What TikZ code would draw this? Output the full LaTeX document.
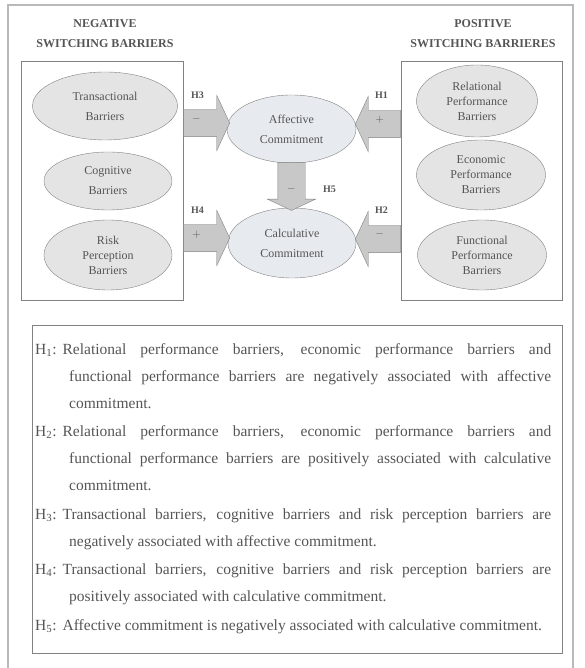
\documentclass[tikz,border=0pt]{standalone}
\usepackage{fontspec}
\setmainfont{Liberation Serif}
\usetikzlibrary{shapes.geometric, shapes.arrows, positioning, calc}

\definecolor{sidefill}{RGB}{228,228,228}
\definecolor{midfill}{RGB}{231,235,239}
\definecolor{arrowfill}{RGB}{200,200,200}
\definecolor{linegray}{RGB}{130,130,130}
\definecolor{framegray}{RGB}{185,185,185}
\definecolor{textgray}{RGB}{85,85,85}

\newcommand{\hyplabel}[1]{H\textsubscript{#1}:\hspace{6pt}}

\begin{document}
\begin{tikzpicture}[
    x=1pt, y=1pt,
    every node/.style={text=textgray},
    group/.style={rectangle, draw=linegray, line width=0.9pt, minimum width=162pt, minimum height=239pt},
    title/.style={align=center, font=\fontsize{12}{20}\selectfont\bfseries},
    barrier/.style={ellipse, draw=linegray, fill=sidefill, align=center, inner sep=0pt, font=\fontsize{12}{15}\selectfont},
    commit/.style={barrier, fill=midfill},
    fatarrow/.style={single arrow, draw=linegray, fill=arrowfill, inner sep=13.5pt, single arrow head extend=14pt, single arrow tip angle=130, anchor=tail, minimum height=46pt},
    hyp/.style={font=\fontsize{10}{12}\selectfont\bfseries},
    sign/.style={font=\fontsize{11}{12}\selectfont}
]
\useasboundingbox (0,0) rectangle (584,668);

% Frame
\draw[framegray, line width=1.2pt] (8,-5) rectangle (573,663);

% Titles
\node[title] (negtitle) at (105,634) {NEGATIVE\\SWITCHING BARRIERS};
\node[title] (postitle) at (483,634) {POSITIVE\\SWITCHING BARRIERES};

% Barrier groups
\node[group] (negbox) at (102,487.5) {};
\node[group, minimum width=161pt] (posbox) at (481.5,487.5) {};

% Negative barriers
\node[barrier, minimum width=145pt, minimum height=68pt] (trans) at (105,562) {Transactional\\[5pt]Barriers};
\node[barrier, minimum width=128pt, minimum height=58pt] (cog) at (108,487) {Cognitive\\[5pt]Barriers};
\node[barrier, minimum width=128pt, minimum height=70pt] (risk) at (108,413) {Risk\\Perception\\Barriers};

% Positive barriers
\node[barrier, minimum width=121pt, minimum height=72pt] (rel) at (477,567) {Relational\\Performance\\Barriers};
\node[barrier, minimum width=129pt, minimum height=70pt] (eco) at (481,493) {Economic\\Performance\\Barriers};
\node[barrier, minimum width=129pt, minimum height=70pt] (fun) at (482,413) {Functional\\Performance\\Barriers};

% Commitment
\node[commit, minimum width=129pt, minimum height=68pt] (aff) at (291.5,539) {Affective\\[5pt]Commitment};
\node[commit, minimum width=128pt, minimum height=70pt] (cal) at (292,425) {Calculative\\[5pt]Commitment};

% Arrows
\node[fatarrow] (a3) at ([yshift=6pt]negbox.east |- aff.center) {};
\node[fatarrow] (a4) at ([yshift=5pt]negbox.east |- cal.center) {};
\node[fatarrow, shape border rotate=180, minimum height=45pt] (a1) at ([yshift=5pt]posbox.west |- aff.center) {};
\node[fatarrow, shape border rotate=180, minimum height=45pt] (a2) at ([yshift=4pt]posbox.west |- cal.center) {};
\node[fatarrow, shape border rotate=270, single arrow head extend=10.5pt, minimum height=48pt] (a5) at ([yshift=1pt]aff.south) {};

% Hypothesis labels
\node[hyp] at ([shift={(14,28)}]a3.tail) {H3};
\node[sign] at ([shift={(13,4)}]a3.tail) {$-$};
\node[hyp] at ([shift={(14,28)}]a4.tail) {H4};
\node[sign] at ([shift={(13,3)}]a4.tail) {$+$};
\node[hyp] at ([shift={(-19,29)}]a1.tail) {H1};
\node[sign] at ([shift={(-21,4)}]a1.tail) {$+$};
\node[hyp] at ([shift={(-19,29)}]a2.tail) {H2};
\node[sign] at ([shift={(-21,5)}]a2.tail) {$-$};
\node[hyp] at ([shift={(38,-27)}]a5.tail) {H5};
\node[sign] at ([shift={(0,-27)}]a5.tail) {$-$};

% Hypotheses
\node[draw=linegray, line width=0.9pt, minimum width=530pt, minimum height=328pt, anchor=north west] (hypbox) at (32,343) {};
\node[anchor=north west, inner sep=0pt, text width=516pt, align=justify, font=\fontsize{15.5}{27}\selectfont] (hyps) at (35,325) {%
\setlength{\parindent}{0pt}\setlength{\parskip}{1.5pt}%
\hangindent=34pt\hangafter=1 \hyplabel{1}Relational performance barriers, economic performance barriers and\linebreak functional performance barriers are negatively associated with affective\linebreak commitment.\par
\hangindent=34pt\hangafter=1 \hyplabel{2}Relational performance barriers, economic performance barriers and\linebreak functional performance barriers are positively associated with calculative\linebreak commitment.\par
\hangindent=34pt\hangafter=1 \hyplabel{3}Transactional barriers, cognitive barriers and risk perception barriers are\linebreak negatively associated with affective commitment.\par
\hangindent=34pt\hangafter=1 \hyplabel{4}Transactional barriers, cognitive barriers and risk perception barriers are\linebreak positively associated with calculative commitment.\par
\hyplabel{5}Affective commitment is negatively associated with calculative commitment.\hspace{0pt plus 1fill}\par};

\end{tikzpicture}
\end{document}
